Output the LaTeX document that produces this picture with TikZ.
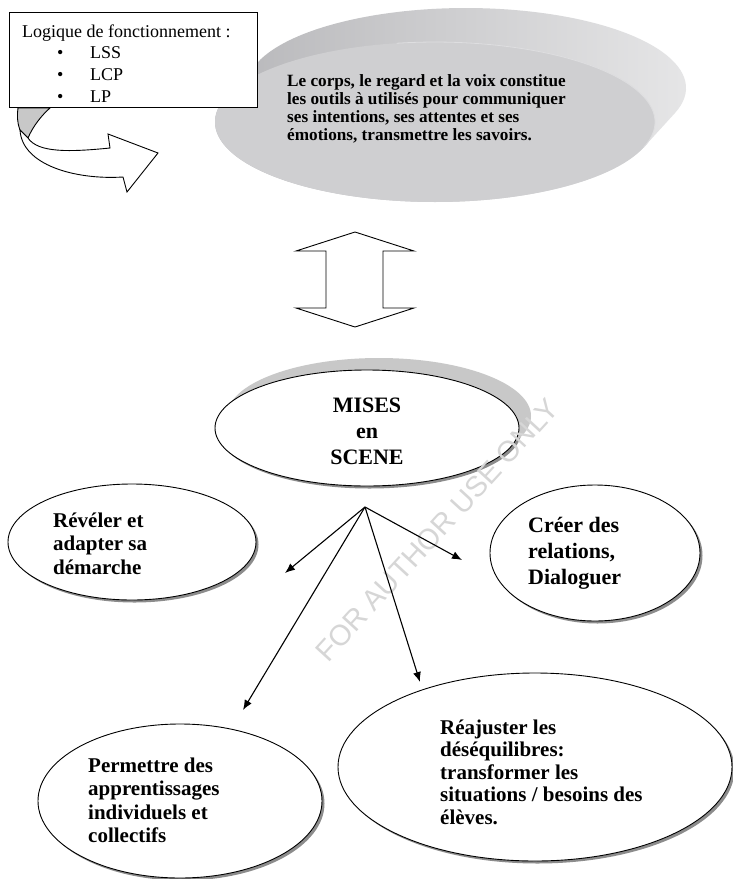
\documentclass[tikz,border=0pt]{standalone}
\usepackage{fontspec}
\setmainfont{Liberation Serif}
\newfontfamily\wmfont{Liberation Sans}
\usetikzlibrary{arrows.meta,shapes.geometric,shadows}
\newcommand\mylines[1]{\begin{tabular}[t]{@{}l@{}}#1\end{tabular}}
\newcommand\mylinesc[1]{\begin{tabular}[t]{@{}c@{}}#1\end{tabular}}
\definecolor{sidedark}{HTML}{B4B4B7}
\definecolor{sidelight}{HTML}{E8E8E9}
\definecolor{faceg}{HTML}{CFCFD1}
\definecolor{faceedge}{HTML}{DEDEE0}
\definecolor{lshadow}{HTML}{C8C8C8}
\definecolor{dshadow}{HTML}{8C8C8C}
\definecolor{wmgray}{HTML}{D6D6D6}
\tikzset{
  ell/.style={ellipse, draw=black, fill=white, line width=0.9pt, inner sep=0pt,
    drop shadow={shadow xshift=2.5pt, shadow yshift=-2.5pt, fill=dshadow, opacity=1}},
  bigshadow/.style={drop shadow={shadow xshift=12pt, shadow yshift=12pt, fill=lshadow, opacity=1}},
  txt/.style={inner sep=0pt, anchor=base west, align=left},
  conn/.style={line width=1.1pt, -{Latex[length=10pt,width=8pt]}},
  outline/.style={draw=black, line width=0.9pt, line join=miter},
}
\begin{document}
\begin{tikzpicture}[x=1pt,y=1pt]
\useasboundingbox (0,0) rectangle (733,-879);
\fill[white] (0,0) rectangle (733,-879);

% ---- grey disc (3D) ----
\shade[left color=sidedark, right color=sidelight]
  (674.8,-113.2) arc[start angle=-18.34, end angle=161.66, x radius=220pt, y radius=80pt]
  -- (226.2,-96.8) arc[start angle=161.66, end angle=341.66, x radius=220pt, y radius=80pt]
  -- cycle;
\fill[faceg] (435,-122) ellipse[x radius=220pt, y radius=80pt];
\draw[faceedge, line width=0.8pt] (643.8,-147.2) arc[start angle=-18.34, end angle=100, x radius=220pt, y radius=80pt];
\node[txt, font=\bfseries\fontsize{17.2}{18.3}\selectfont] (corps) at (287,-86)
  {\mylines{Le corps, le regard et la voix constitue\\les outils à utilisés pour communiquer\\ses intentions, ses attentes et ses\\émotions, transmettre les savoirs.}};

% ---- curved arrow ----
\draw[outline, fill=lshadow] (18,-108) -- (50,-108) .. controls (42,-115) and (33,-126) .. (28,-138)
  -- (20,-130) .. controls (17,-122) and (17,-115) .. (18,-108) -- cycle;
\draw[outline, fill=white] (28,-138) .. controls (38,-153) and (70,-152) .. (110,-148)
  -- (108,-134) -- (158,-153) -- (127,-192) -- (123,-177)
  .. controls (75,-180) and (22,-165) .. (20,-130) -- cycle;

% ---- box ----
\draw[line width=0.9pt, fill=white] (9,-12) rectangle (257,-107);
\node[txt, font=\fontsize{18}{21.7}\selectfont] (logique) at (22,-37)
  {\mylines{Logique de fonctionnement :\\
   \hspace*{35pt}\makebox[33pt][l]{•}LSS\\
   \hspace*{35pt}\makebox[33pt][l]{•}LCP\\
   \hspace*{35pt}\makebox[33pt][l]{•}LP}};

% ---- double arrow ----
\draw[outline, fill=white] (355,-232) -- (414,-251) -- (383,-251) -- (383,-308) -- (414,-308)
  -- (355,-327) -- (296,-308) -- (326,-308) -- (326,-251) -- (296,-251) -- cycle;

% ---- ellipses ----
\node[ell, bigshadow, minimum width=304pt, minimum height=116pt] (mises) at (367,-428) {};
\node[ell, minimum width=248pt, minimum height=116pt] (revE) at (132,-542) {};
\node[ell, minimum width=210pt, minimum height=136pt] (creE) at (595,-553) {};
\node[ell, minimum width=284pt, minimum height=154pt] (perE) at (180,-801) {};
\node[ell, minimum width=394pt, minimum height=188pt] (reaE) at (535,-767) {};

\node[inner sep=0pt, anchor=base, align=center, font=\bfseries\fontsize{22}{26}\selectfont] (misesT) at (367,-412)
  {\mylinesc{MISES\\en\\SCENE}};
\node[txt, font=\bfseries\fontsize{21}{23.5}\selectfont] (revT) at (53,-527)
  {\mylines{Révéler et\\adapter sa\\démarche}};
\node[txt, font=\bfseries\fontsize{22}{26}\selectfont] (creT) at (528,-532)
  {\mylines{Créer des\\relations,\\Dialoguer}};
\node[txt, font=\bfseries\fontsize{21}{23.5}\selectfont] (perT) at (88,-772)
  {\mylines{Permettre des\\apprentissages\\individuels et\\collectifs}};
\node[txt, font=\bfseries\fontsize{21}{22.5}\selectfont] (reaT) at (440,-734)
  {\mylines{Réajuster les\\déséquilibres:\\transformer les\\situations / besoins des\\élèves.}};

% ---- watermark ----
\node[rotate=47.5, inner sep=0pt, text=wmgray, font=\wmfont\fontsize{29}{29}\selectfont] (wm) at (437,-530) {FOR AUTHOR USE ONLY};

% ---- connectors ----
\coordinate (hub) at (365,-507);
\coordinate (toRev) at (285,-573);
\coordinate (toCre) at (462,-560);
\coordinate (toPer) at (243,-710);
\coordinate (toRea) at (420,-682);
\draw[conn] (hub) -- (toRev);
\draw[conn] (hub) -- (toCre);
\draw[conn] (hub) -- (toPer);
\draw[conn] (hub) -- (toRea);
\end{tikzpicture}
\end{document}
